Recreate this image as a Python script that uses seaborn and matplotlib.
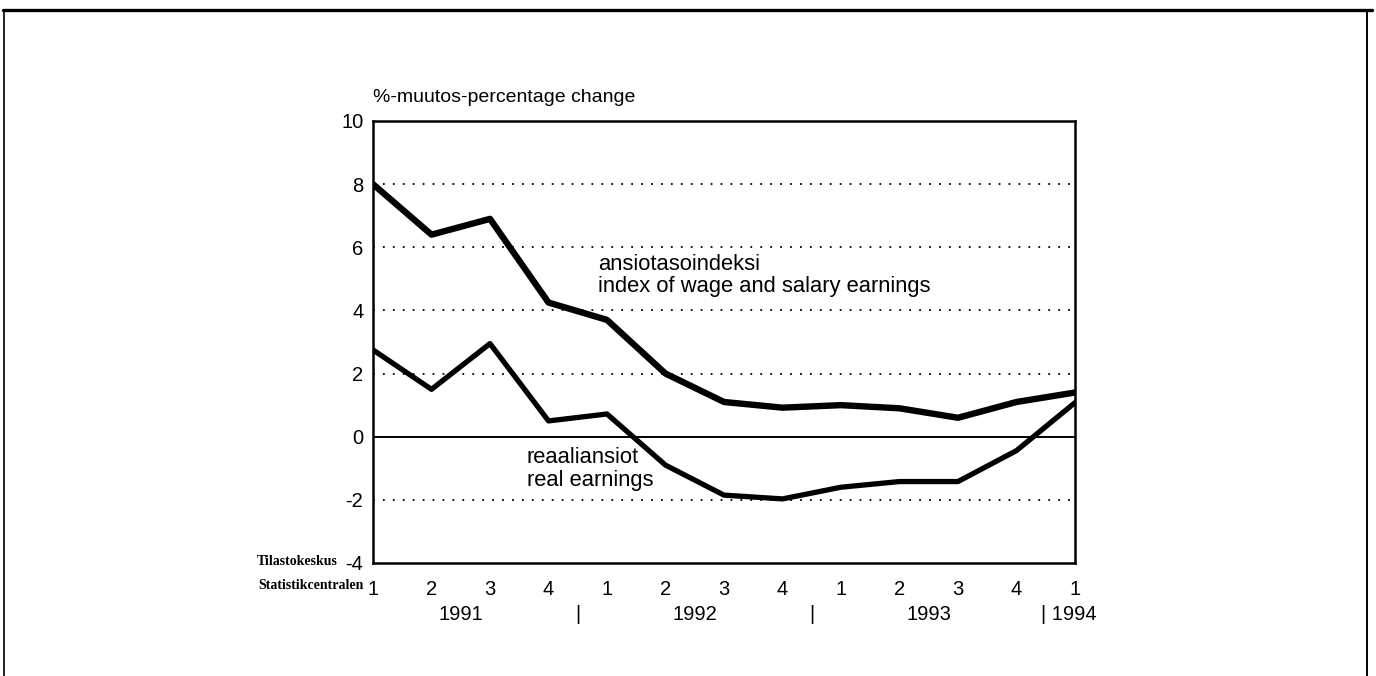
import matplotlib
matplotlib.use("Agg")
import matplotlib.pyplot as plt
import matplotlib.lines as mlines
import numpy as np
import pandas as pd
import seaborn as sns

# quarterly % change, 1991 Q1 .. 1994 Q1
quarters = ["1", "2", "3", "4", "1", "2", "3", "4", "1", "2", "3", "4", "1"]
wage_index = [8.0, 6.4, 6.9, 4.25, 3.7, 2.0, 1.1, 0.92, 1.0, 0.9, 0.6, 1.1, 1.4]
real_earnings = [2.75, 1.5, 2.95, 0.5, 0.72, -0.9, -1.85, -1.97, -1.6, -1.42, -1.42, -0.44, 1.08]
year_labels = ["1991", "|", "1992", "|", "1993"]
grid_levels = [-2, 2, 4, 6, 8]
y_ticks = [-4, -2, 0, 2, 4, 6, 8, 10]

df = pd.DataFrame({
    "pos": list(range(len(quarters))) * 2,
    "value": wage_index + real_earnings,
    "series": ["wage"] * len(quarters) + ["real"] * len(quarters),
})

sns.set_style("white")
plt.rcParams["font.family"] = ["Liberation Sans", "DejaVu Sans"]
plt.rcParams["text.color"] = "black"

fig = plt.figure(figsize=(13.76, 6.76), dpi=100)
ax = fig.add_axes([373 / 1376, 1 - 563 / 676, 702 / 1376, 442 / 676])

for lev in grid_levels:
    ax.axhline(lev, color="black", lw=1.3, ls=(0, (1, 4.5)), zorder=1)
ax.axhline(0, color="black", lw=1.4, zorder=2)

sns.lineplot(data=df, x="pos", y="value", hue="series", size="series",
             palette={"wage": "black", "real": "black"},
             sizes={"wage": 4.6, "real": 3.8}, legend=False, ax=ax, zorder=3)

ax.set_xlim(0, len(quarters) - 1)
ax.set_ylim(-4, 10)
ax.set_yticks(y_ticks)
ax.set_yticklabels([str(t) for t in y_ticks])
ax.set_xticks(range(len(quarters)))
ax.set_xticklabels(quarters)
ax.tick_params(axis="both", length=0, labelsize=14.5, colors="black")
ax.tick_params(axis="x", pad=12)
ax.tick_params(axis="y", pad=7)
ax.set_xlabel("")
ax.set_ylabel("")
for s in ax.spines.values():
    s.set_visible(True)
    s.set_color("black")
    s.set_linewidth(1.8)

# year row under quarter labels
tr = ax.get_xaxis_transform()
for i, lab in enumerate(year_labels):
    ax.text(1.5 + 2 * i, -0.129, lab, transform=tr, ha="center", va="baseline", fontsize=14.5)
ax.text(11.42, -0.129, "| 1994", transform=tr, ha="left", va="baseline", fontsize=14.5)

ax.text(0, 1.043, "%-muutos-percentage change", transform=ax.transAxes,
        ha="left", va="baseline", fontsize=14)

ax.text(3.85, 5.27, "ansiotasoindeksi", ha="left", va="baseline", fontsize=15.8)
ax.text(3.85, 4.57, "index of wage and salary earnings", ha="left", va="baseline", fontsize=15.8)
ax.text(2.63, -0.83, "reaaliansiot", ha="left", va="baseline", fontsize=15.8)
ax.text(2.63, -1.56, "real earnings", ha="left", va="baseline", fontsize=15.8)

# source text at lower left
fig.text(338 / 1376, 1 - 565 / 676, "Tilastokeskus", ha="right", va="baseline",
         fontsize=10, fontweight="bold", family="Liberation Serif")
fig.text(364 / 1376, 1 - 589 / 676, "Statistikcentralen", ha="right", va="baseline",
         fontsize=10, fontweight="bold", family="Liberation Serif")

# page frame
fig.add_artist(mlines.Line2D([3 / 1376, 1372 / 1376], [1 - 10 / 676] * 2, color="black", lw=2.4))
fig.add_artist(mlines.Line2D([3.5 / 1376] * 2, [0, 1 - 10 / 676], color="black", lw=1.2))
fig.add_artist(mlines.Line2D([1367 / 1376] * 2, [0, 1 - 10 / 676], color="black", lw=1.4))

fig.savefig("out.png", dpi=100, facecolor="white")
